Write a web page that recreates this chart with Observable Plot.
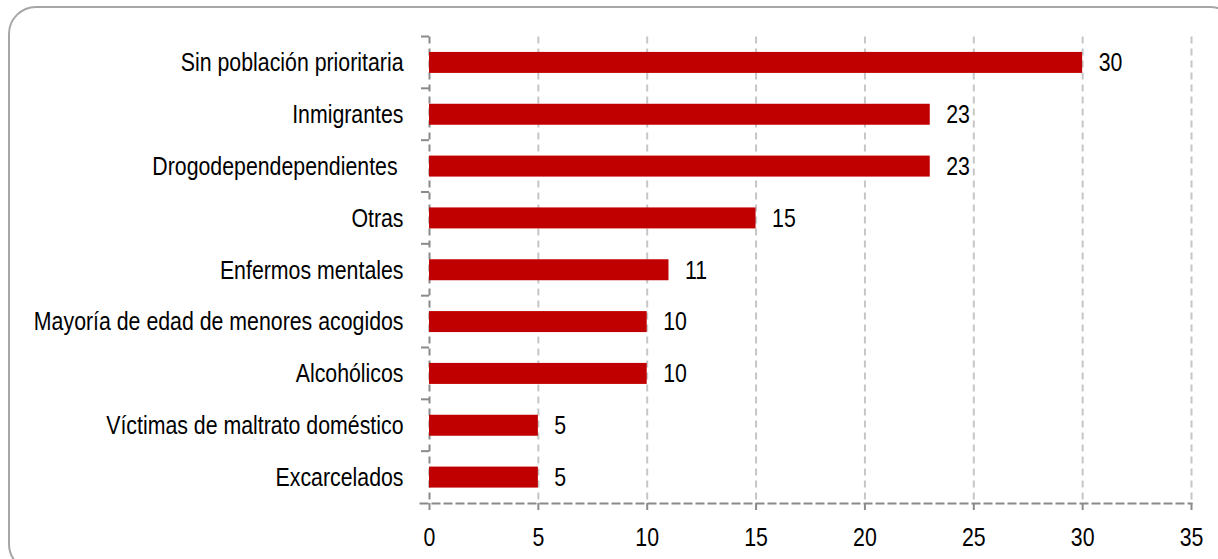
<!DOCTYPE html>
<html>
<head>
<meta charset="utf-8">
<script src="https://cdn.jsdelivr.net/npm/d3@7"></script>
<script src="https://cdn.jsdelivr.net/npm/@observablehq/plot@0.6"></script>
<style>
  html, body { margin: 0; padding: 0; background: #fff; overflow: hidden; }
  #wrap { position: relative; width: 1218px; height: 559px; overflow: hidden; }
  #border { position: absolute; left: 7.5px; top: 5.5px; width: 1230px; height: 566px;
            border: 2px solid #a6a6a6; border-radius: 28px; box-sizing: border-box; }
  #chart { position: absolute; left: 0; top: 0; }
  svg text { white-space: pre; }
</style>
</head>
<body>
<div id="wrap">
  <div id="border"></div>
  <div id="chart"></div>
</div>
<script>
const categories = [
  "Sin población prioritaria",
  "Inmigrantes",
  "Drogodependependientes ",
  "Otras",
  "Enfermos mentales",
  "Mayoría de edad de menores acogidos",
  "Alcohólicos",
  "Víctimas de maltrato doméstico",
  "Excarcelados"
];
const values = [30, 23, 23, 15, 11, 10, 10, 5, 5];
const xTicks = [0, 5, 10, 15, 20, 25, 30, 35];

const data = categories.map((c, i) => ({category: c, value: values[i]}));

const FONT = '"Liberation Sans", Arial, sans-serif';
const FS = 26;
const NARROW = 0.82; // emulate a narrow face by horizontal compression
const AXIS = "#8a8a8a";
const GRID = "#c6c6c6";

// small tick marks at band boundaries on the left axis
function bandBoundaryTicks(index, scales, values, dimensions) {
  const y = scales.y;
  const step = typeof y.step === "function" ? y.step()
    : (dimensions.height - dimensions.marginTop - dimensions.marginBottom) / categories.length;
  const bw = typeof y.bandwidth === "function" ? y.bandwidth() : 0;
  const x0 = dimensions.marginLeft;
  const g = d3.create("svg:g").attr("stroke", AXIS).attr("stroke-width", 2);
  categories.forEach(c => {
    const v = y(c) + bw / 2 - step / 2;
    g.append("line").attr("x1", x0 - 8).attr("x2", x0).attr("y1", v).attr("y2", v);
  });
  return g.node();
}

const plot = Plot.plot({
  width: 1218,
  height: 559,
  marginLeft: 429,
  marginRight: 27,
  marginTop: 36.5,
  marginBottom: 56,
  style: {fontFamily: FONT, fontSize: FS + "px", color: "#000", background: "transparent"},
  x: {domain: [0, 35], ticks: xTicks},
  y: {domain: categories, paddingInner: 0.595, paddingOuter: 0.2975, align: 0.5, round: false, label: null},
  marks: [
    Plot.ruleX(xTicks.filter(t => t > 0), {stroke: GRID, strokeWidth: 2, strokeDasharray: "7,5"}),
    Plot.ruleX([0], {stroke: AXIS, strokeWidth: 2, strokeDasharray: "7,5"}),
    Plot.frame({anchor: "bottom", stroke: AXIS, strokeWidth: 2, strokeDasharray: "7,5", insetLeft: -9}),
    Plot.barX(data, {x: "value", y: "category", fill: "#c00000"}),
    Plot.text(data, {x: "value", y: "category", text: d => String(d.value), textAnchor: "start", dx: 16, fill: "#000", fontSize: FS}),
    Plot.axisX({ticks: xTicks, tickSize: 7, tickPadding: 17, stroke: AXIS, strokeWidth: 2, label: null, fontSize: FS, fill: "#000"}),
    Plot.axisY({tickSize: 0, tickPadding: 26, label: null, fontSize: FS, fill: "#000"}),
    bandBoundaryTicks
  ]
});
document.getElementById("chart").appendChild(plot);

// compress text horizontally about its anchor point (emulates Arial Narrow)
plot.querySelectorAll("text").forEach(t => {
  const xa = t.getAttribute("x");
  const x = xa && !/em$/.test(xa) ? +xa : 0;
  const tr = t.getAttribute("transform") || "";
  t.setAttribute("transform", `${tr} translate(${x},0) scale(${NARROW},1)`.trim());
  if (xa && !/em$/.test(xa)) t.removeAttribute("x");
});
</script>
</body>
</html>
